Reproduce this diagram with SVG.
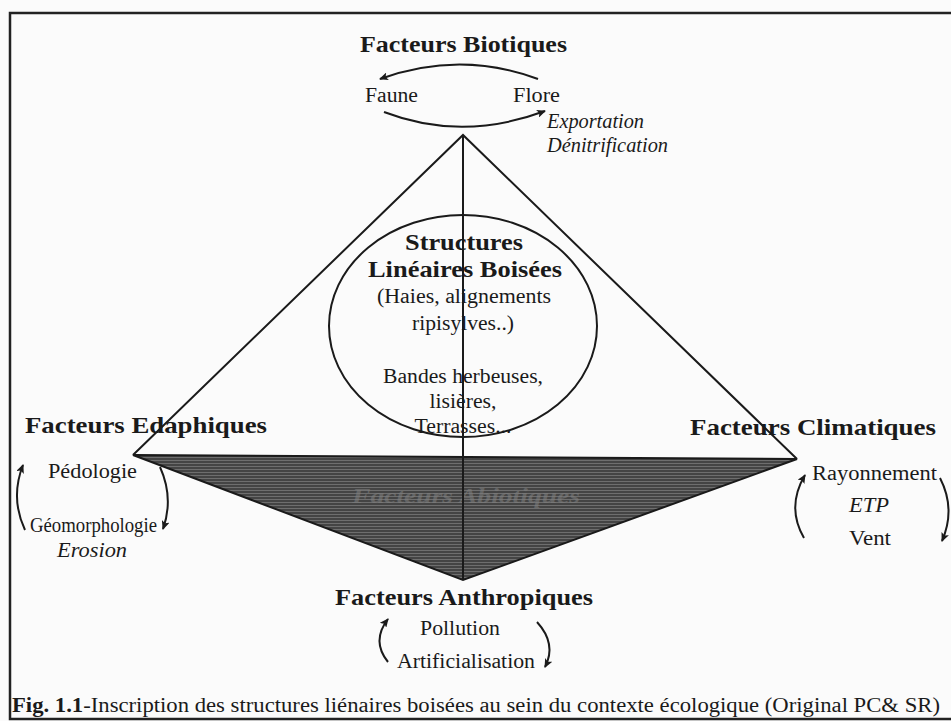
<svg xmlns="http://www.w3.org/2000/svg" width="951" height="721" viewBox="0 0 951 721">
<style>
text{font-family:"Liberation Serif","Times New Roman",serif;fill:#1a1a1a}
.t{font-weight:bold;font-size:24px}
.r{font-size:20px}
.i{font-size:20px;font-style:italic}
.ln{stroke:#1a1a1a;stroke-width:2;fill:none}
.arc{stroke:#1a1a1a;stroke-width:2;fill:none;marker-end:url(#ah)}
</style>
<defs>
<marker id="ah" markerWidth="10" markerHeight="8" refX="8" refY="4" orient="auto" markerUnits="userSpaceOnUse">
<path d="M0,0 L9,4 L0,8 L2,4 Z" fill="#1a1a1a"/>
</marker>
<pattern id="hatch" width="4" height="3" patternUnits="userSpaceOnUse">
<rect width="4" height="3" fill="#444"/>
<rect y="1" width="4" height="1" fill="#6e6e6e"/>
</pattern>
</defs>
<rect width="951" height="721" fill="#fbfbfb"/>
<g id="frame" stroke="#222" stroke-width="2.5" fill="none">
<path d="M951 13 H10 V719 H951"/>
</g>
<g id="pyramid">
<polygon points="133,455 797,459 463,580" fill="url(#hatch)" stroke="#1a1a1a" stroke-width="2"/>
<text x="352" y="503" font-size="22" font-style="italic" font-weight="bold" style="fill:#808080;opacity:0.55" textLength="228" lengthAdjust="spacingAndGlyphs">Facteurs Abiotiques</text>
<path class="ln" d="M133 455 L463 135 L797 459"/>
<line class="ln" x1="463" y1="135" x2="463" y2="580"/>
</g>
<g id="structures">
<ellipse cx="463" cy="326" rx="134" ry="111" class="ln"/>
<text class="t" x="464" y="250" text-anchor="middle" textLength="118" lengthAdjust="spacingAndGlyphs">Structures</text>
<text class="t" x="465" y="277" text-anchor="middle" textLength="194" lengthAdjust="spacingAndGlyphs">Linéaires Boisées</text>
<text class="r" x="464" y="303" text-anchor="middle" textLength="174" lengthAdjust="spacingAndGlyphs">(Haies, alignements</text>
<text class="r" x="463" y="330" text-anchor="middle" textLength="102" lengthAdjust="spacingAndGlyphs">ripisylves..)</text>
<text class="r" x="463" y="383" text-anchor="middle" textLength="160" lengthAdjust="spacingAndGlyphs">Bandes herbeuses,</text>
<text class="r" x="463" y="408" text-anchor="middle" textLength="67" lengthAdjust="spacingAndGlyphs">lisières,</text>
<text class="r" x="463" y="433" text-anchor="middle" textLength="97" lengthAdjust="spacingAndGlyphs">Terrasses...</text>
</g>
<g id="biotiques">
<text class="t" x="360" y="52" textLength="207" lengthAdjust="spacingAndGlyphs">Facteurs Biotiques</text>
<text class="r" x="365" y="102" textLength="53" lengthAdjust="spacingAndGlyphs">Faune</text>
<text class="r" x="513" y="102" textLength="47" lengthAdjust="spacingAndGlyphs">Flore</text>
<text class="i" x="547" y="128" textLength="97" lengthAdjust="spacingAndGlyphs">Exportation</text>
<text class="i" x="547" y="152" textLength="121" lengthAdjust="spacingAndGlyphs">Dénitrification</text>
</g>
<g id="edaphiques">
<text class="t" x="25" y="433" textLength="242" lengthAdjust="spacingAndGlyphs">Facteurs Edaphiques</text>
<text class="r" x="48" y="478" textLength="89" lengthAdjust="spacingAndGlyphs">Pédologie</text>
<text class="r" x="30" y="532" textLength="127" lengthAdjust="spacingAndGlyphs">Géomorphologie</text>
<text class="i" x="57" y="557" textLength="70" lengthAdjust="spacingAndGlyphs">Erosion</text>
</g>
<g id="climatiques">
<text class="t" x="690" y="435" textLength="246" lengthAdjust="spacingAndGlyphs">Facteurs Climatiques</text>
<text class="r" x="812" y="480" textLength="125" lengthAdjust="spacingAndGlyphs">Rayonnement</text>
<text class="i" x="849" y="512" textLength="40" lengthAdjust="spacingAndGlyphs">ETP</text>
<text class="r" x="849" y="545" textLength="42" lengthAdjust="spacingAndGlyphs">Vent</text>
</g>
<g id="anthropiques">
<text class="t" x="335" y="605" textLength="258" lengthAdjust="spacingAndGlyphs">Facteurs Anthropiques</text>
<text class="r" x="420" y="635" textLength="80" lengthAdjust="spacingAndGlyphs">Pollution</text>
<text class="r" x="397" y="668" textLength="138" lengthAdjust="spacingAndGlyphs">Artificialisation</text>
</g>
<g id="connectors">
<path class="arc" d="M538 79 Q460 50 380 79"/>
<path class="arc" d="M384 112 Q462 142 545 111"/>
<path class="arc" d="M25 530 Q10 498 23 465"/>
<path class="arc" d="M160 467 Q174 498 163 529"/>
<path class="arc" d="M804 538 Q786 507 805 475"/>
<path class="arc" d="M940 478 Q956 509 942 541"/>
<path class="arc" d="M388 662 Q371 641 388 619"/>
<path class="arc" d="M537 622 Q557 644 545 667"/>
</g>
<g id="caption">
<text x="12" y="712" font-size="20" textLength="928" lengthAdjust="spacingAndGlyphs"><tspan font-weight="bold">Fig. 1.1</tspan>-Inscription des structures liénaires boisées au sein du contexte écologique (Original PC&amp; SR)</text>
</g>
</svg>
